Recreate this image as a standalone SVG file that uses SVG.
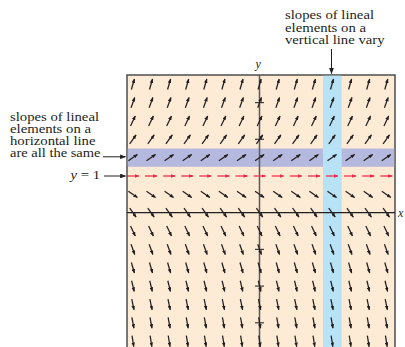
<svg xmlns="http://www.w3.org/2000/svg" width="405" height="347" viewBox="0 0 405 347">
<style>
.t{font-family:"Liberation Serif","Times New Roman",serif;font-size:12px;fill:#231f20}
.i{font-style:italic}
.f{fill:none;stroke:#231f20;stroke-width:1.25;marker-end:url(#h)}
.r{fill:none;stroke:#ec2a48;stroke-width:1.25;marker-end:url(#hr)}
.ann{fill:none;stroke:#231f20;stroke-width:1;marker-end:url(#ha)}
</style>
<defs>
<marker id="h" viewBox="0 0 10 8" refX="9" refY="4" markerWidth="4.5" markerHeight="3.6" markerUnits="userSpaceOnUse" orient="auto"><path d="M0,0 L10,4 L0,8 z" fill="#231f20"/></marker>
<marker id="hr" viewBox="0 0 10 8" refX="9" refY="4" markerWidth="4.5" markerHeight="3.6" markerUnits="userSpaceOnUse" orient="auto"><path d="M0,0 L10,4 L0,8 z" fill="#ec2a48"/></marker>
<marker id="ha" viewBox="0 0 10 8" refX="9" refY="4" markerWidth="6" markerHeight="4.8" markerUnits="userSpaceOnUse" orient="auto"><path d="M0,0 L10,4 L0,8 z" fill="#231f20"/></marker>
<path id="a7" d="M-1.51,5.29L1.51,-5.29"/>
<path id="a6" d="M-1.85,5.18L1.85,-5.18"/>
<path id="a5" d="M-2.36,4.97L2.36,-4.97"/>
<path id="a4" d="M-3.2,4.48L3.2,-4.48"/>
<path id="a3" d="M-4.51,3.15L4.51,-3.15"/>
<path id="a2" d="M-6,0L6,0"/>
<path id="a1" d="M-4.51,-3.15L4.51,3.15"/>
<path id="a0" d="M-3.2,-4.48L3.2,4.48"/>
<path id="m1" d="M-2.36,-4.97L2.36,4.97"/>
<path id="m2" d="M-1.85,-5.18L1.85,5.18"/>
<path id="m3" d="M-1.51,-5.29L1.51,5.29"/>
<path id="m4" d="M-1.27,-5.35L1.27,5.35"/>
<path id="m5" d="M-1.1,-5.39L1.1,5.39"/>
<path id="m6" d="M-0.97,-5.41L0.97,5.41"/>
<path id="m7" d="M-0.86,-5.43L0.86,5.43"/>
</defs>

<!-- plot background and bands -->
<rect x="127" y="75" width="268" height="280" fill="#fdebd6" stroke="#4d4d4d" stroke-width="1.5"/>
<rect x="127.75" y="148.5" width="266.5" height="18.3" fill="#b5b9dd"/>
<rect x="323" y="75.75" width="18.7" height="272" fill="#b8e2f6"/>

<!-- axes -->
<g id="axes">
<line x1="259.5" y1="75" x2="259.5" y2="347" stroke="#5a5a5a" stroke-width="1.5"/>
<line x1="127" y1="212.7" x2="395" y2="212.7" stroke="#231f20" stroke-width="1.2"/>
<g stroke="#3a3a3a" stroke-width="1.2">
<line x1="255" y1="102.6" x2="264" y2="102.6"/>
<line x1="255" y1="139.3" x2="264" y2="139.3"/>
<line x1="255" y1="249.4" x2="264" y2="249.4"/>
<line x1="255" y1="286.1" x2="264" y2="286.1"/>
<line x1="255" y1="322.8" x2="264" y2="322.8"/>
</g>
<text class="t i" x="255.5" y="68" font-size="13">y</text>
<text class="t i" x="398" y="216.5" font-size="13">x</text>
</g>

<!-- slope field -->
<g id="field">
<g class="f" transform="translate(0,84.25)"><use href="#a7" x="132.9"/><use href="#a7" x="151"/><use href="#a7" x="169.1"/><use href="#a7" x="187.2"/><use href="#a7" x="205.3"/><use href="#a7" x="223.4"/><use href="#a7" x="241.5"/><use href="#a7" x="259.6"/><use href="#a7" x="277.7"/><use href="#a7" x="295.8"/><use href="#a7" x="313.9"/><use href="#a7" x="332"/><use href="#a7" x="350.1"/><use href="#a7" x="368.2"/><use href="#a7" x="386.3"/></g>
<g class="f" transform="translate(0,102.6)"><use href="#a6" x="132.9"/><use href="#a6" x="151"/><use href="#a6" x="169.1"/><use href="#a6" x="187.2"/><use href="#a6" x="205.3"/><use href="#a6" x="223.4"/><use href="#a6" x="241.5"/><use href="#a6" x="259.6"/><use href="#a6" x="277.7"/><use href="#a6" x="295.8"/><use href="#a6" x="313.9"/><use href="#a6" x="332"/><use href="#a6" x="350.1"/><use href="#a6" x="368.2"/><use href="#a6" x="386.3"/></g>
<g class="f" transform="translate(0,120.95)"><use href="#a5" x="132.9"/><use href="#a5" x="151"/><use href="#a5" x="169.1"/><use href="#a5" x="187.2"/><use href="#a5" x="205.3"/><use href="#a5" x="223.4"/><use href="#a5" x="241.5"/><use href="#a5" x="259.6"/><use href="#a5" x="277.7"/><use href="#a5" x="295.8"/><use href="#a5" x="313.9"/><use href="#a5" x="332"/><use href="#a5" x="350.1"/><use href="#a5" x="368.2"/><use href="#a5" x="386.3"/></g>
<g class="f" transform="translate(0,139.3)"><use href="#a4" x="132.9"/><use href="#a4" x="151"/><use href="#a4" x="169.1"/><use href="#a4" x="187.2"/><use href="#a4" x="205.3"/><use href="#a4" x="223.4"/><use href="#a4" x="241.5"/><use href="#a4" x="259.6"/><use href="#a4" x="277.7"/><use href="#a4" x="295.8"/><use href="#a4" x="313.9"/><use href="#a4" x="332"/><use href="#a4" x="350.1"/><use href="#a4" x="368.2"/><use href="#a4" x="386.3"/></g>
<g class="f" transform="translate(0,157.65)"><use href="#a3" x="132.9"/><use href="#a3" x="151"/><use href="#a3" x="169.1"/><use href="#a3" x="187.2"/><use href="#a3" x="205.3"/><use href="#a3" x="223.4"/><use href="#a3" x="241.5"/><use href="#a3" x="259.6"/><use href="#a3" x="277.7"/><use href="#a3" x="295.8"/><use href="#a3" x="313.9"/><use href="#a3" x="332"/><use href="#a3" x="350.1"/><use href="#a3" x="368.2"/><use href="#a3" x="386.3"/></g>
<g class="r" transform="translate(0,176)"><use href="#a2" x="132.9"/><use href="#a2" x="151"/><use href="#a2" x="169.1"/><use href="#a2" x="187.2"/><use href="#a2" x="205.3"/><use href="#a2" x="223.4"/><use href="#a2" x="241.5"/><use href="#a2" x="259.6"/><use href="#a2" x="277.7"/><use href="#a2" x="295.8"/><use href="#a2" x="313.9"/><use href="#a2" x="332"/><use href="#a2" x="350.1"/><use href="#a2" x="368.2"/><use href="#a2" x="386.3"/></g>
<g class="f" transform="translate(0,194.35)"><use href="#a1" x="132.9"/><use href="#a1" x="151"/><use href="#a1" x="169.1"/><use href="#a1" x="187.2"/><use href="#a1" x="205.3"/><use href="#a1" x="223.4"/><use href="#a1" x="241.5"/><use href="#a1" x="259.6"/><use href="#a1" x="277.7"/><use href="#a1" x="295.8"/><use href="#a1" x="313.9"/><use href="#a1" x="332"/><use href="#a1" x="350.1"/><use href="#a1" x="368.2"/><use href="#a1" x="386.3"/></g>
<g class="f" transform="translate(0,212.7)"><use href="#a0" x="132.9"/><use href="#a0" x="151"/><use href="#a0" x="169.1"/><use href="#a0" x="187.2"/><use href="#a0" x="205.3"/><use href="#a0" x="223.4"/><use href="#a0" x="241.5"/><use href="#a0" x="259.6"/><use href="#a0" x="277.7"/><use href="#a0" x="295.8"/><use href="#a0" x="313.9"/><use href="#a0" x="332"/><use href="#a0" x="350.1"/><use href="#a0" x="368.2"/><use href="#a0" x="386.3"/></g>
<g class="f" transform="translate(0,231.05)"><use href="#m1" x="132.9"/><use href="#m1" x="151"/><use href="#m1" x="169.1"/><use href="#m1" x="187.2"/><use href="#m1" x="205.3"/><use href="#m1" x="223.4"/><use href="#m1" x="241.5"/><use href="#m1" x="259.6"/><use href="#m1" x="277.7"/><use href="#m1" x="295.8"/><use href="#m1" x="313.9"/><use href="#m1" x="332"/><use href="#m1" x="350.1"/><use href="#m1" x="368.2"/><use href="#m1" x="386.3"/></g>
<g class="f" transform="translate(0,249.4)"><use href="#m2" x="132.9"/><use href="#m2" x="151"/><use href="#m2" x="169.1"/><use href="#m2" x="187.2"/><use href="#m2" x="205.3"/><use href="#m2" x="223.4"/><use href="#m2" x="241.5"/><use href="#m2" x="259.6"/><use href="#m2" x="277.7"/><use href="#m2" x="295.8"/><use href="#m2" x="313.9"/><use href="#m2" x="332"/><use href="#m2" x="350.1"/><use href="#m2" x="368.2"/><use href="#m2" x="386.3"/></g>
<g class="f" transform="translate(0,267.75)"><use href="#m3" x="132.9"/><use href="#m3" x="151"/><use href="#m3" x="169.1"/><use href="#m3" x="187.2"/><use href="#m3" x="205.3"/><use href="#m3" x="223.4"/><use href="#m3" x="241.5"/><use href="#m3" x="259.6"/><use href="#m3" x="277.7"/><use href="#m3" x="295.8"/><use href="#m3" x="313.9"/><use href="#m3" x="332"/><use href="#m3" x="350.1"/><use href="#m3" x="368.2"/><use href="#m3" x="386.3"/></g>
<g class="f" transform="translate(0,286.1)"><use href="#m4" x="132.9"/><use href="#m4" x="151"/><use href="#m4" x="169.1"/><use href="#m4" x="187.2"/><use href="#m4" x="205.3"/><use href="#m4" x="223.4"/><use href="#m4" x="241.5"/><use href="#m4" x="259.6"/><use href="#m4" x="277.7"/><use href="#m4" x="295.8"/><use href="#m4" x="313.9"/><use href="#m4" x="332"/><use href="#m4" x="350.1"/><use href="#m4" x="368.2"/><use href="#m4" x="386.3"/></g>
<g class="f" transform="translate(0,304.45)"><use href="#m5" x="132.9"/><use href="#m5" x="151"/><use href="#m5" x="169.1"/><use href="#m5" x="187.2"/><use href="#m5" x="205.3"/><use href="#m5" x="223.4"/><use href="#m5" x="241.5"/><use href="#m5" x="259.6"/><use href="#m5" x="277.7"/><use href="#m5" x="295.8"/><use href="#m5" x="313.9"/><use href="#m5" x="332"/><use href="#m5" x="350.1"/><use href="#m5" x="368.2"/><use href="#m5" x="386.3"/></g>
<g class="f" transform="translate(0,322.8)"><use href="#m6" x="132.9"/><use href="#m6" x="151"/><use href="#m6" x="169.1"/><use href="#m6" x="187.2"/><use href="#m6" x="205.3"/><use href="#m6" x="223.4"/><use href="#m6" x="241.5"/><use href="#m6" x="259.6"/><use href="#m6" x="277.7"/><use href="#m6" x="295.8"/><use href="#m6" x="313.9"/><use href="#m6" x="332"/><use href="#m6" x="350.1"/><use href="#m6" x="368.2"/><use href="#m6" x="386.3"/></g>
<g class="f" transform="translate(0,341.15)"><use href="#m7" x="132.9"/><use href="#m7" x="151"/><use href="#m7" x="169.1"/><use href="#m7" x="187.2"/><use href="#m7" x="205.3"/><use href="#m7" x="223.4"/><use href="#m7" x="241.5"/><use href="#m7" x="259.6"/><use href="#m7" x="277.7"/><use href="#m7" x="295.8"/><use href="#m7" x="313.9"/><use href="#m7" x="332"/><use href="#m7" x="350.1"/><use href="#m7" x="368.2"/><use href="#m7" x="386.3"/></g>
</g>

<!-- annotations -->
<g id="note-vertical">
<text class="t"><tspan x="285" y="19.3" textLength="89" lengthAdjust="spacingAndGlyphs">slopes of lineal</tspan><tspan x="285" y="31.5" textLength="81" lengthAdjust="spacingAndGlyphs">elements on a</tspan><tspan x="285" y="43.5" textLength="99.5" lengthAdjust="spacingAndGlyphs">vertical line vary</tspan></text>
</g>
<g id="note-horizontal">
<text class="t"><tspan x="10" y="120.5" textLength="89" lengthAdjust="spacingAndGlyphs">slopes of lineal</tspan><tspan x="10" y="132.7" textLength="81" lengthAdjust="spacingAndGlyphs">elements on a</tspan><tspan x="10" y="144.9" textLength="85.5" lengthAdjust="spacingAndGlyphs">horizontal line</tspan><tspan x="10" y="157.1" textLength="90.5" lengthAdjust="spacingAndGlyphs">are all the same</tspan></text>
</g>
<g id="note-y1">
<text class="t" x="70.5" y="179" textLength="29.5" lengthAdjust="spacingAndGlyphs"><tspan class="i">y</tspan> = 1</text>
</g>
<g id="connectors">
<line class="ann" x1="103" y1="156.8" x2="125.5" y2="156.8"/>
<line class="ann" x1="104" y1="176" x2="125.5" y2="176"/>
<line class="ann" x1="331.5" y1="49" x2="331.5" y2="73.5"/>
</g>
</svg>
